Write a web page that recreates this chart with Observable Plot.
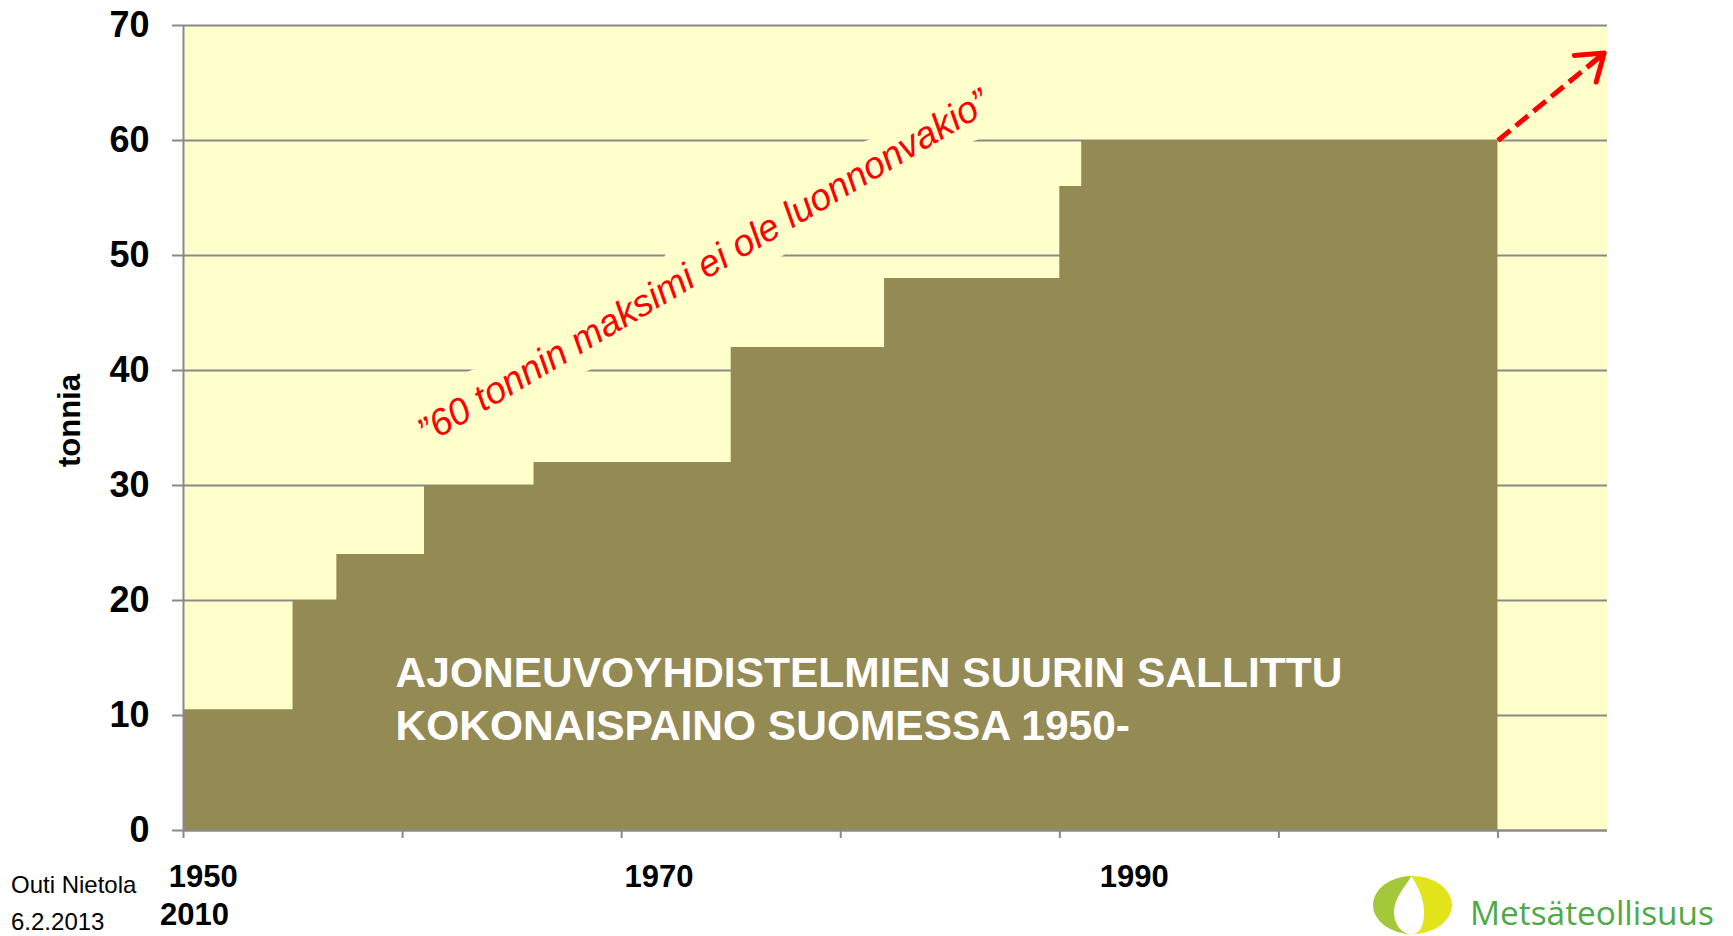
<!DOCTYPE html>
<html><head><meta charset="utf-8">
<script src="https://cdn.jsdelivr.net/npm/d3@7"></script>
<script src="https://cdn.jsdelivr.net/npm/@observablehq/plot@0.6"></script>
<style>
html,body{margin:0;padding:0;background:#fff;}
#wrap{position:relative;width:1733px;height:936px;overflow:hidden;}
#chart{position:absolute;left:0;top:0;}
#overlay{position:absolute;left:0;top:0;pointer-events:none;}
</style></head><body>
<div id="wrap">
<div id="chart"></div>
<svg id="overlay" width="1733" height="936">
  <g font-family="'Liberation Sans', Arial, sans-serif" font-size="24" fill="#000">
    <text x="11" y="893">Outi Nietola</text>
    <text x="11" y="930">6.2.2013</text>
  </g>
  <g transform="translate(1373,876)">
    <defs><clipPath id="lefthalf"><rect x="-2" y="-2" width="41.5" height="64"/></clipPath></defs>
    <ellipse cx="39.5" cy="29" rx="39.5" ry="29" fill="#E2E31B"/>
    <ellipse cx="39.5" cy="29" rx="39.5" ry="29" fill="#A3C93B" clip-path="url(#lefthalf)"/>
    <path d="M38.5,0 C32,11 21,22 21,36 C21,50 30,58 38.5,58 C47,58 51,50 51,36 C51,22 45,11 38.5,0Z" fill="#fff"/>
  </g>
  <text x="1470" y="925" font-family="'Open Sans', 'Noto Sans', sans-serif" font-size="33.4" fill="#4EA946">Metsäteollisuus</text>
</svg>
</div>
<script>
// Step data: maximum permitted gross weight of vehicle combinations (tonnes)
const years  = [1950, 1955, 1957, 1961, 1966, 1975, 1982, 1990, 1991, 2010];
const tonnes = [10.5, 20, 24, 30, 32, 42, 48, 56, 60, 60];

const yTicks = [0, 10, 20, 30, 40, 50, 60, 70];
const xTicks = [1950, 1960, 1970, 1980, 1990, 2000, 2010];

// category labels as printed under the axis
const xLabels   = ["1950", "1970", "1990", "2010"];
const xLabelAt  = [1950.9, 1971.7, 1993.4, 1950.5];
const xLabelRow = [0, 0, 0, 1];

// trend arrow (year, tonnes)
const arrowFrom = [2010, 60];
const arrowTo   = [2014.85, 67.6];

const yTitle = "tonnia";
const chartTitle = "AJONEUVOYHDISTELMIEN SUURIN SALLITTU\nKOKONAISPAINO SUOMESSA 1950-";
const quote = "”60 tonnin maksimi ei ole luonnonvakio”";

const steps = years.map((y, i) => ({year: y, t: tonnes[i]}));
const labels = xLabels.map((l, i) => ({label: l, at: xLabelAt[i], row: xLabelRow[i]}));
const arrow = [{x1: arrowFrom[0], y1: arrowFrom[1], x2: arrowTo[0], y2: arrowTo[1]}];

const GRID = "#898989";
const chart = Plot.plot({
  width: 1733, height: 936,
  marginLeft: 183, marginRight: 126, marginTop: 25, marginBottom: 106,
  x: {domain: [1950, 2015], axis: null},
  y: {domain: [0, 70], axis: null},
  style: {fontFamily: "'Liberation Sans', Arial, sans-serif", background: "transparent", overflow: "visible"},
  marks: [
    Plot.frame({fill: "#FFFFCC", stroke: null}),
    Plot.ruleY(yTicks, {stroke: GRID, strokeWidth: 2}),
    Plot.areaY(steps, {x: "year", y: "t", curve: "step-after", fill: "#948A54"}),
    Plot.ruleX([1950], {stroke: GRID, strokeWidth: 2}),
    Plot.ruleY([0], {stroke: GRID, strokeWidth: 2}),
    Plot.axisY({ticks: yTicks, tickSize: 11, tickPadding: 23, fontSize: 36, fontWeight: "bold",
      stroke: GRID, strokeWidth: 2, fill: "#000", label: null}),
    Plot.axisX({ticks: xTicks, tickSize: 8, tickFormat: () => "", stroke: GRID, strokeWidth: 2, label: null}),
    Plot.text(labels.filter(d => d.row === 0), {x: "at", text: "label", frameAnchor: "bottom",
      lineAnchor: "middle", textAnchor: "middle", dy: 47, fontSize: 31, fontWeight: "bold", fill: "#000"}),
    Plot.text(labels.filter(d => d.row === 1), {x: "at", text: "label", frameAnchor: "bottom",
      lineAnchor: "middle", textAnchor: "middle", dy: 85, fontSize: 31, fontWeight: "bold", fill: "#000"}),
    Plot.text([yTitle], {frameAnchor: "left", y: 35.65, dx: -113, rotate: -90, textAnchor: "middle",
      lineAnchor: "middle", fontSize: 31, fontWeight: "bold", fill: "#000"}),
    Plot.text([chartTitle], {x: 1959.68, y: 15.7, textAnchor: "start", lineAnchor: "top",
      lineHeight: 1.24, fontSize: 42.5, fontWeight: "bold", fill: "#FFFFFF"}),
    Plot.text([quote], {x: 1973.75, y: 49.0, rotate: -30.7, fontSize: 37.4, fontStyle: "italic",
      fill: "#FF0000", stroke: "#FFFFCC", strokeWidth: 36, strokeLinejoin: "round", paintOrder: "stroke"}),
    Plot.link(arrow, {x1: "x1", y1: "y1", x2: "x2", y2: "y2", stroke: "#FF0000", strokeWidth: 5,
      strokeDasharray: "16,7", insetEnd: 4}),
    Plot.arrow(arrow, {x1: "x1", y1: "y1", x2: "x2", y2: "y2", stroke: "#FF0000", strokeWidth: 5,
      insetStart: 120, headLength: 9, headAngle: 70, strokeLinecap: "round", strokeLinejoin: "round"})
  ]
});
document.getElementById("chart").appendChild(chart);
</script>
</body></html>
